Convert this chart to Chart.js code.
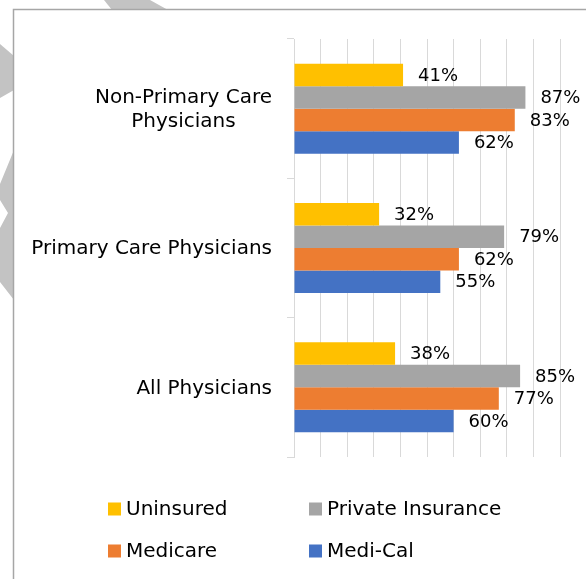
<!DOCTYPE html>
<html>
<head>
<meta charset="utf-8">
<script src="https://cdn.jsdelivr.net/npm/chart.js@4.4.1/dist/chart.umd.min.js"></script>
<style>
  body { margin: 0; background: #fff; }
  canvas { display: block; }
</style>
</head>
<body>
<canvas id="physChart" width="586" height="579"></canvas>
<script>
// values (percent of physicians)
const categories = [["Non-Primary Care", "Physicians"], "Primary Care Physicians", "All Physicians"];
const seriesNames = ["Uninsured", "Private Insurance", "Medicare", "Medi-Cal"];
const uninsured = [41, 32, 38];
const privateInsurance = [87, 79, 85];
const medicare = [83, 62, 77];
const mediCal = [62, 55, 60];
const seriesColors = ["#FFC000", "#A5A5A5", "#ED7D31", "#4472C4"];

const FONT = "'DejaVu Sans', sans-serif";

// grey diagonal stripes behind the frame + the frame itself
const framePlugin = {
    id: "frame",
    beforeDraw(chart) {
        const ctx = chart.ctx;
        ctx.save();
        ctx.fillStyle = "#c3c3c3";
        const shapes = [
            [[104, 0], [150, 0], [168, 10], [112, 10]],
            [[0, 44], [14, 56], [14, 90], [0, 98]],
            [[14, 150], [14, 300], [0, 282], [0, 228], [8, 213], [0, 200], [0, 184]]
        ];
        shapes.forEach(s => {
            ctx.beginPath();
            ctx.moveTo(s[0][0], s[0][1]);
            s.slice(1).forEach(p => ctx.lineTo(p[0], p[1]));
            ctx.closePath();
            ctx.fill();
        });
        ctx.fillStyle = "#ffffff";
        ctx.fillRect(13, 9, 600, 600);
        ctx.strokeStyle = "#a6a6a6";
        ctx.lineWidth = 1.5;
        ctx.strokeRect(13.5, 9.5, 700, 700);
        ctx.restore();
    }
};

// category names, block right-aligned, lines centred on each other
const categoryLabels = {
    id: "categoryLabels",
    afterDraw(chart) {
        const ctx = chart.ctx;
        const y = chart.scales.y;
        ctx.save();
        ctx.font = "20px " + FONT;
        ctx.fillStyle = "#000";
        ctx.textAlign = "center";
        ctx.textBaseline = "middle";
        chart.data.labels.forEach((lab, i) => {
            const lines = Array.isArray(lab) ? lab : [lab];
            const w = Math.max(...lines.map(l => ctx.measureText(l).width));
            const cx = 272 - w / 2;
            const cy = y.getPixelForTick(i);
            const lh = 24;
            lines.forEach((l, j) => {
                ctx.fillText(l, cx, cy + (j - (lines.length - 1) / 2) * lh + 1);
            });
        });
        ctx.restore();
    }
};

// value labels at the end of each bar
const valueLabels = {
    id: "valueLabels",
    afterDatasetsDraw(chart) {
        const ctx = chart.ctx;
        ctx.save();
        ctx.font = "18px " + FONT;
        ctx.fillStyle = "#000";
        ctx.textAlign = "left";
        ctx.textBaseline = "middle";
        chart.data.datasets.forEach((ds, di) => {
            chart.getDatasetMeta(di).data.forEach((bar, i) => {
                ctx.fillText(ds.data[i] + "%", bar.x + 15, bar.y + 1);
            });
        });
        ctx.restore();
    }
};

// 2 x 2 legend under the plot
const gridLegend = {
    id: "gridLegend",
    afterDraw(chart) {
        const ctx = chart.ctx;
        ctx.save();
        ctx.font = "20px " + FONT;
        ctx.textBaseline = "middle";
        ctx.textAlign = "left";
        chart.data.datasets.forEach((ds, i) => {
            const col = i % 2, row = Math.floor(i / 2);
            const x = 108 + col * 201;
            const cy = 509 + row * 42;
            ctx.fillStyle = ds.backgroundColor;
            ctx.fillRect(x, cy - 6.5, 13, 13);
            ctx.fillStyle = "#000";
            ctx.fillText(ds.label, x + 18, cy + 1);
        });
        ctx.restore();
    }
};

const seriesValues = [uninsured, privateInsurance, medicare, mediCal];

new Chart(document.getElementById("physChart"), {
    type: "bar",
    data: {
        labels: categories,
        datasets: seriesNames.map((name, i) => ({
            label: name,
            data: seriesValues[i],
            backgroundColor: seriesColors[i],
            borderWidth: 0,
            categoryPercentage: 0.646,
            barPercentage: 1
        }))
    },
    options: {
        indexAxis: "y",
        responsive: false,
        animation: false,
        layout: { padding: { left: 0, top: 39, right: 26, bottom: 122 } },
        scales: {
            x: {
                min: 0,
                max: 100,
                ticks: { display: false, stepSize: 10 },
                grid: { color: "#d9d9d9", drawTicks: false },
                border: { display: false },
                afterFit(scale) { scale.height = 0; }
            },
            y: {
                ticks: { display: false },
                grid: { drawOnChartArea: false, drawTicks: true, tickLength: 7, color: "#d9d9d9" },
                border: { display: true, color: "#d9d9d9" },
                afterFit(scale) { scale.width = 294; }
            }
        },
        plugins: {
            legend: { display: false },
            tooltip: { enabled: false }
        }
    },
    plugins: [framePlugin, categoryLabels, valueLabels, gridLegend]
});
</script>
</body>
</html>
